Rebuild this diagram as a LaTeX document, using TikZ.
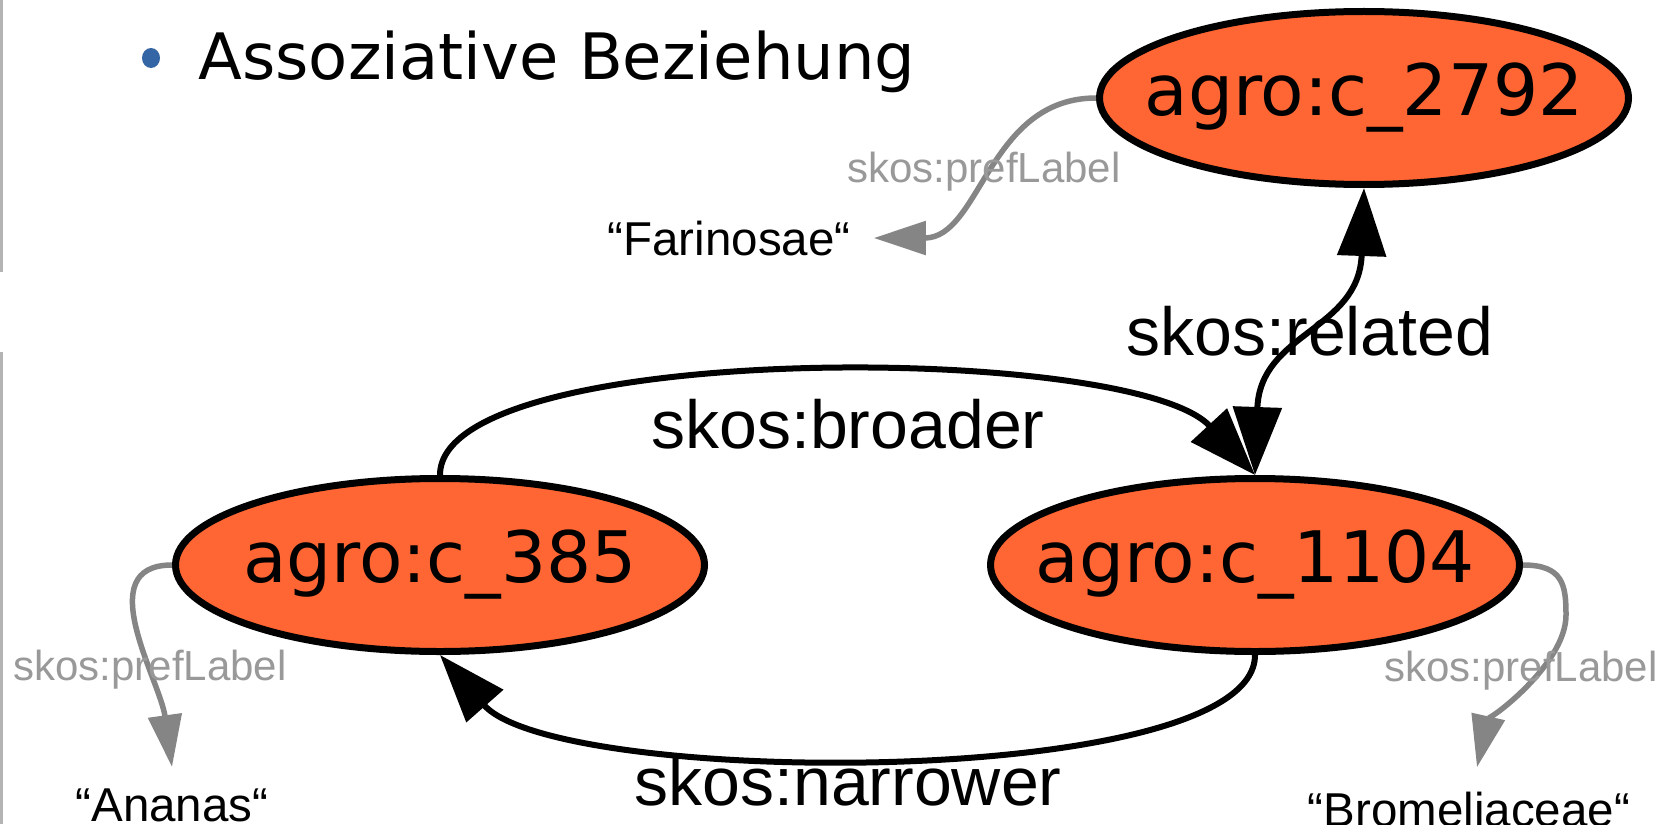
\documentclass[tikz,border=0pt]{standalone}
\usepackage{fontspec}
\setmainfont{Liberation Sans}
\newfontfamily\dvs{DejaVu Sans}
\usetikzlibrary{arrows.meta,shapes.geometric}
\definecolor{nodeorange}{HTML}{FF6633}
\definecolor{arrowgray}{HTML}{858585}
\definecolor{labelgray}{HTML}{999999}
\definecolor{bulletblue}{HTML}{3465A4}
\definecolor{edgegray}{HTML}{B4B4B4}
\begin{document}
\begin{tikzpicture}[x=0.5pt,y=-0.5pt,
  concept/.style={ellipse, draw=black, line width=3.5pt, fill=nodeorange,
    inner xsep=-30pt, inner ysep=0pt, minimum width=264.5pt, minimum height=86.5pt,
    font=\dvs\fontsize{35.5}{40}\selectfont},
  rel/.style={draw=black, line width=3pt, -{Triangle[length=34pt,width=24pt]}},
  lit/.style={font=\fontsize{23.75}{28}\selectfont, inner sep=0pt, anchor=base},
  pref/.style={draw=arrowgray, line width=2.75pt, -{Triangle[length=26pt,width=16.5pt]}},
  preflbl/.style={text=labelgray, font=\fontsize{21}{24}\selectfont, inner sep=0pt, anchor=base},
  rellbl/.style={font=\fontsize{34}{38}\selectfont, inner sep=0pt, anchor=base}]
\useasboundingbox (0,0) rectangle (1669,824);
\fill[white] (0,0) rectangle (1669,824);
\draw[edgegray, line width=1.25pt] (1.5,0) -- (1.5,272);
\draw[edgegray, line width=1.25pt] (1.5,352) -- (1.5,824);

% title
\node[ellipse, fill=bulletblue, minimum width=9pt, minimum height=10pt, inner sep=0pt] (bullet) at (151,58) {};
\node[font=\dvs\fontsize{32}{36}\selectfont, anchor=base west, inner sep=0pt] (title) at (198,80) {Assoziative Beziehung};

% concepts
\node[concept] (c2792) at (1364,98) {agro:c\_2792};
\node[concept] (c385) at (440,565) {agro:c\_385};
\node[concept] (c1104) at (1255,565) {agro:c\_1104};

% literals
\node[lit] (farin) at (729,255) {“Farinosae“};
\node[lit] (ananas) at (172,821) {“Ananas“};
\node[lit] (brom) at (1469,826) {“Bromeliaceae“};

% relations
\draw[rel] (c385.north) .. controls +(0,-135) and +(-123,-133) .. (c1104.north);
\draw[rel] (c1104.south) .. controls +(0,135) and +(117,133) .. (c385.south);
\draw[draw=black, line width=3pt, {Triangle[length=34pt,width=24pt]}-{Triangle[length=34pt,width=24pt]}]
  (c1104.north) .. controls +(5,-143) and +(-5,143) .. (c2792.south);

\node[rellbl] (lbroader) at (848,448) {skos:broader};
\node[rellbl] (lnarrower) at (848,805) {skos:narrower};
\node[rellbl] (lrelated) at (1310,355) {skos:related};

% pref labels
\draw[pref] (c2792.west) .. controls +(-108,0) and +(107,0) .. ([xshift=11.5pt]farin.east);
\draw[pref] (c385.west) .. controls +(-82,0) and +(-12,-87) .. ([yshift=10.5pt]ananas.north);
\draw[pref] (c1104.east) .. controls +(40,0) and +(0,-30) .. ++(43,50)
  .. controls +(0,50) and +(10,-45) .. ([xshift=4pt,yshift=12pt]brom.north);

\node[preflbl] (pl1) at (984,182) {skos:prefLabel};
\node[preflbl] (pl2) at (150,680) {skos:prefLabel};
\node[preflbl] (pl3) at (1521,681) {skos:prefLabel};
\end{tikzpicture}
\end{document}
